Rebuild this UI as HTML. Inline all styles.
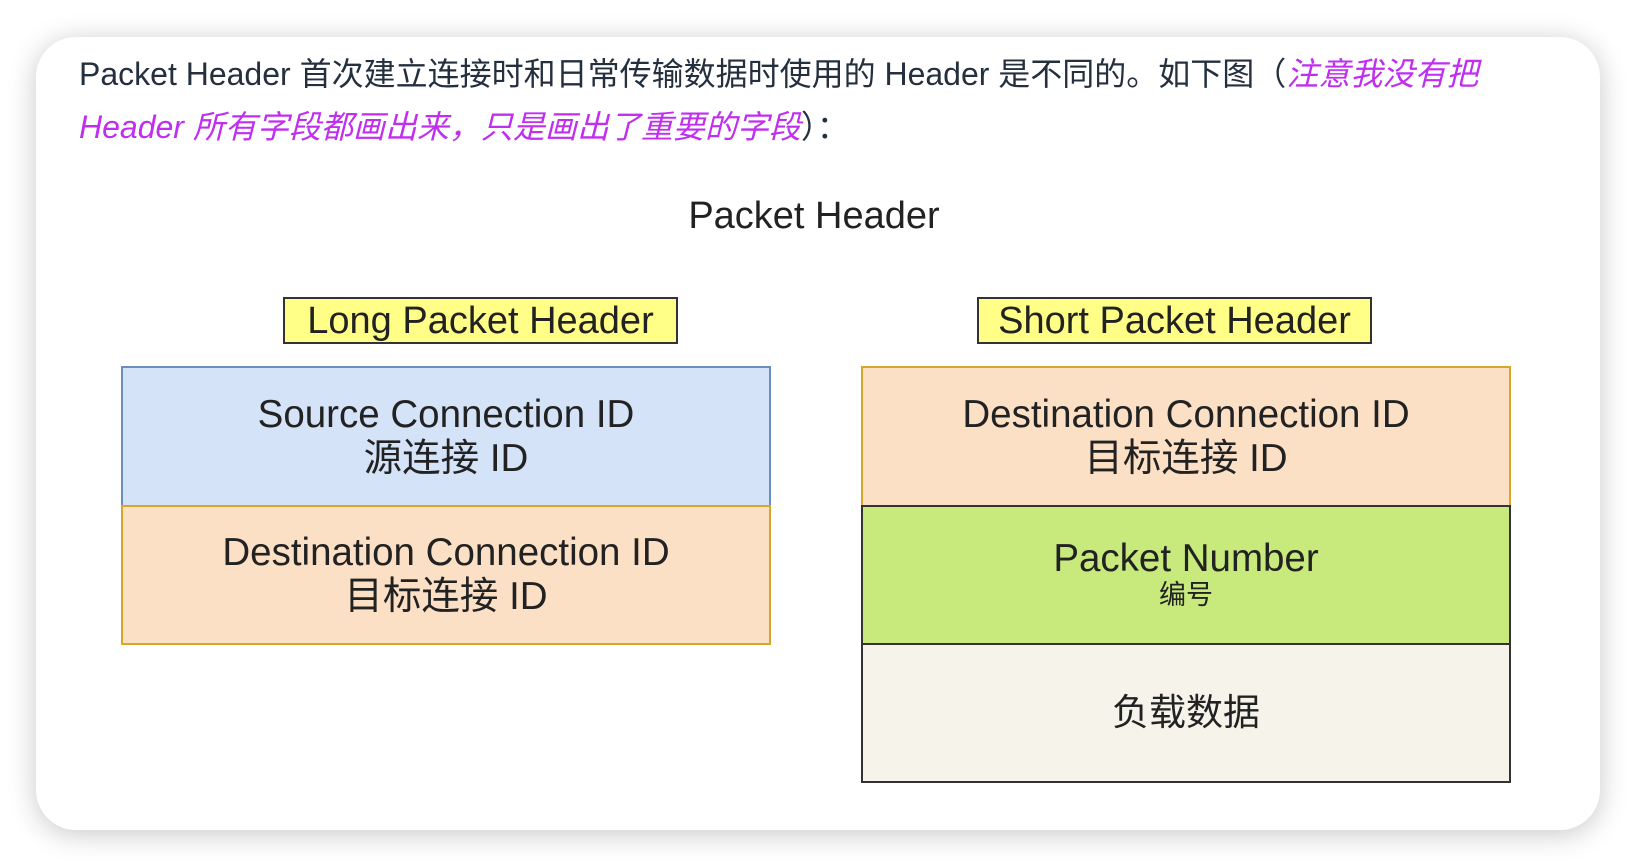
<!DOCTYPE html>
<html><head><meta charset="utf-8"><style>
html,body{margin:0;padding:0;background:#fff;width:1636px;height:866px;overflow:hidden}
.card{position:absolute;left:36px;top:37px;width:1564px;height:793px;background:#fff;border-radius:40px;box-shadow:0 4px 28px rgba(0,0,0,0.22)}
.t{position:absolute;white-space:nowrap;font-family:"Liberation Sans","Noto Sans CJK SC",sans-serif}
.p{left:79px;font-size:32px;color:#25303f}
.m{color:#c02ef0;font-style:italic}
.box{position:absolute;box-sizing:border-box;display:flex;flex-direction:column;align-items:center;justify-content:center;font-family:"Liberation Sans","Noto Sans CJK SC",sans-serif;color:#222;text-align:center;line-height:44px}
.lab{background:#ffff88;border:2px solid #333;font-size:38px;line-height:40px}
</style></head><body>
<div class="card"></div>
<div class="t p" style="top:49px">Packet Header 首次建立连接时和日常传输数据时使用的 Header 是不同的。如下图（<span class="m">注意我没有把</span></div>
<div class="t p" style="top:102px"><span class="m">Header 所有字段都画出来，只是画出了重要的字段</span>）：</div>
<div class="t" style="left:614px;top:195px;width:400px;text-align:center;font-size:38px;color:#222">Packet Header</div>

<div class="box lab" style="left:283px;top:297px;width:395px;height:47px">Long Packet Header</div>
<div class="box lab" style="left:977px;top:297px;width:395px;height:47px">Short Packet Header</div>

<div class="box" style="left:121px;top:366px;width:650px;height:141px;background:#d4e3f8;border:2px solid #6c8ebf;font-size:38.5px">Source Connection ID<br>源连接 ID</div>
<div class="box" style="left:121px;top:505px;width:650px;height:140px;background:#fce0c6;border:2px solid #d6a72a;font-size:38.5px">Destination Connection ID<br>目标连接 ID</div>

<div class="box" style="left:861px;top:366px;width:650px;height:141px;background:#fce0c6;border:2px solid #d6a72a;font-size:38.5px">Destination Connection ID<br>目标连接 ID</div>
<div class="box" style="left:861px;top:505px;width:650px;height:140px;background:#c8e97c;border:2px solid #333;font-size:38.5px;line-height:40px">Packet Number<br><span style="font-size:27px;line-height:32px">编号</span></div>
<div class="box" style="left:861px;top:643px;width:650px;height:140px;background:#f6f3ea;border:2px solid #333;font-size:37px">负载数据</div>
</body></html>
